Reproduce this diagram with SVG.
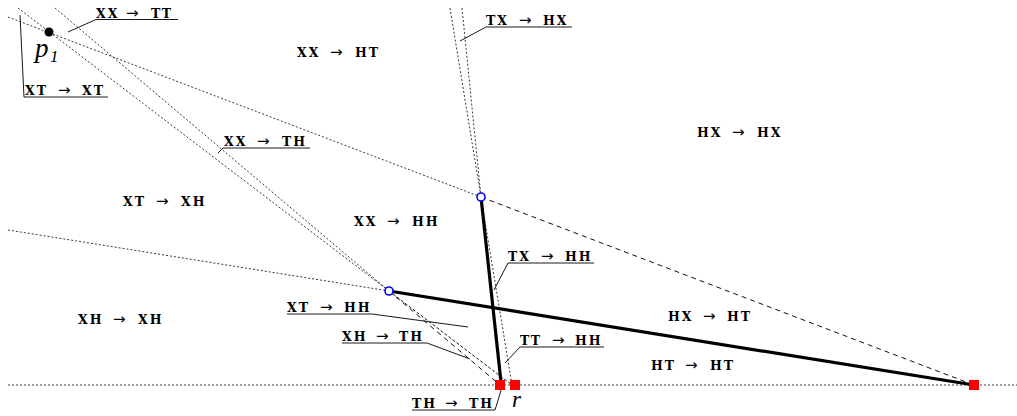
<svg xmlns="http://www.w3.org/2000/svg" width="1017" height="416" viewBox="0 0 1017 416">
<style>
.dot{fill:none;stroke:#222;stroke-width:0.9;stroke-dasharray:2,2}
.dash{fill:none;stroke:#111;stroke-width:1;stroke-dasharray:5,4}
.sdash{fill:none;stroke:#111;stroke-width:1;stroke-dasharray:3,2}
.thick{fill:none;stroke:#000;stroke-width:3.2}
.lead{fill:none;stroke:#000;stroke-width:0.9}
.lbl{font-family:"DejaVu Serif","Liberation Serif",serif;font-weight:bold;font-size:12.5px;letter-spacing:2px;fill:#000}
.ar{font-family:"DejaVu Sans",sans-serif;font-weight:normal;font-size:15px;letter-spacing:0}
.math{font-family:"Liberation Serif","DejaVu Serif",serif;font-style:italic;fill:#000}
.sq{fill:#ff0000}
.circ{fill:#fff;stroke:#0000ff;stroke-width:1.6}
</style>
<g id="connectors">
  <line class="dot" x1="8" y1="385" x2="1017" y2="385"/>
  <line class="dot" x1="462" y1="8" x2="481" y2="197"/>
  <line class="dot" x1="450" y1="8" x2="481" y2="197"/>
  <line class="dot" x1="481" y1="197" x2="512" y2="385"/>
  <line class="dot" x1="8" y1="17" x2="481" y2="197"/>
  <line class="dash" x1="481" y1="197" x2="974" y2="385"/>
  <line class="dot" x1="18" y1="8" x2="389" y2="291"/>
  <line class="sdash" x1="389" y1="291" x2="512" y2="385"/>
  <line class="dot" x1="55" y1="8" x2="389" y2="291"/>
  <line class="dash" x1="389" y1="291" x2="500" y2="385"/>
  <line class="dot" x1="8" y1="230" x2="389" y2="291"/>
  <line class="thick" x1="481" y1="197" x2="501" y2="382"/>
  <line class="thick" x1="389" y1="291" x2="974" y2="385"/>
  <polyline class="lead" points="68,32 96,19.5 178,19.5"/>
  <polyline class="lead" points="20,15 24,97 108,97"/>
  <polyline class="lead" points="460,41 486,27 572,27"/>
  <polyline class="lead" points="218,153 223,148 310,148"/>
  <polyline class="lead" points="494,290 508,263 594,263"/>
  <polyline class="lead" points="287,314 372,314 468,327"/>
  <polyline class="lead" points="342,343 427,343 470,359"/>
  <polyline class="lead" points="505,363 520,347 604,347"/>
  <polyline class="lead" points="412,410 495,410 503,384"/>
</g>
<g id="points">
  <circle id="p1" cx="49" cy="32" r="4.5" fill="#000"/>
  <circle id="c1" class="circ" cx="389" cy="291" r="4"/>
  <circle id="c2" class="circ" cx="481" cy="197" r="4"/>
  <rect id="r1" class="sq" x="495" y="380" width="10" height="10"/>
  <rect id="r2" class="sq" x="510" y="380" width="10" height="10"/>
  <rect id="r3" class="sq" x="969" y="380" width="10" height="10"/>
</g>
<g id="labels">
  <text class="lbl" y="17.5"><tspan x="96">XX</tspan><tspan class="ar" x="126">→</tspan><tspan x="151">TT</tspan></text>
  <text class="lbl" y="95"><tspan x="25">XT</tspan><tspan class="ar" x="58">→</tspan><tspan x="82">XT</tspan></text>
  <text class="lbl" y="25"><tspan x="486">TX</tspan><tspan class="ar" x="519">→</tspan><tspan x="543">HX</tspan></text>
  <text class="lbl" y="57"><tspan x="297">XX</tspan><tspan class="ar" x="330">→</tspan><tspan x="355">HT</tspan></text>
  <text class="lbl" y="146"><tspan x="224">XX</tspan><tspan class="ar" x="257">→</tspan><tspan x="282">TH</tspan></text>
  <text class="lbl" y="137"><tspan x="697">HX</tspan><tspan class="ar" x="732">→</tspan><tspan x="757">HX</tspan></text>
  <text class="lbl" y="206"><tspan x="123">XT</tspan><tspan class="ar" x="156">→</tspan><tspan x="181">XH</tspan></text>
  <text class="lbl" y="226"><tspan x="354">XX</tspan><tspan class="ar" x="387">→</tspan><tspan x="412">HH</tspan></text>
  <text class="lbl" y="261"><tspan x="508">TX</tspan><tspan class="ar" x="541">→</tspan><tspan x="565">HH</tspan></text>
  <text class="lbl" y="324"><tspan x="78">XH</tspan><tspan class="ar" x="113">→</tspan><tspan x="138">XH</tspan></text>
  <text class="lbl" y="312"><tspan x="287">XT</tspan><tspan class="ar" x="320">→</tspan><tspan x="344">HH</tspan></text>
  <text class="lbl" y="321"><tspan x="668">HX</tspan><tspan class="ar" x="703">→</tspan><tspan x="727">HT</tspan></text>
  <text class="lbl" y="341"><tspan x="342">XH</tspan><tspan class="ar" x="376">→</tspan><tspan x="399">TH</tspan></text>
  <text class="lbl" y="345"><tspan x="520">TT</tspan><tspan class="ar" x="552">→</tspan><tspan x="575">HH</tspan></text>
  <text class="lbl" y="370"><tspan x="651">HT</tspan><tspan class="ar" x="685">→</tspan><tspan x="710">HT</tspan></text>
  <text class="lbl" y="408"><tspan x="412">TH</tspan><tspan class="ar" x="445">→</tspan><tspan x="469">TH</tspan></text>
  <text class="math" x="35" y="57" font-size="27">p</text>
  <text class="math" x="50" y="62" font-size="17" font-style="normal">1</text>
  <text class="math" x="512" y="407" font-size="23">r</text>
</g>
</svg>
